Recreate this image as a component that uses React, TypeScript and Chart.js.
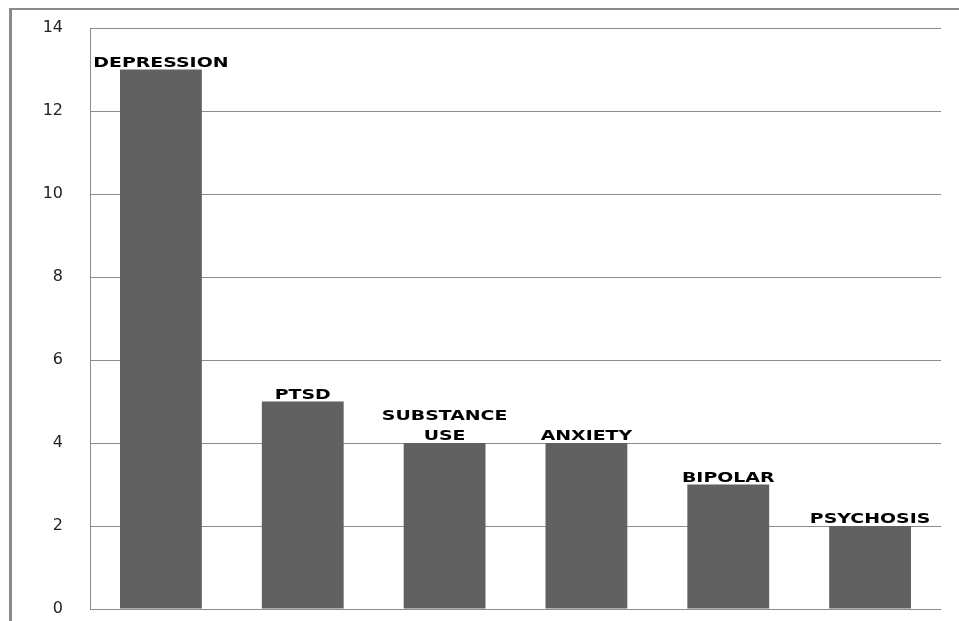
import React, { useEffect, useRef } from "react";
import { Chart, registerables } from "chart.js";

Chart.register(...registerables);

const categories: (string | string[])[] = [
  "DEPRESSION",
  "PTSD",
  ["SUBSTANCE", "USE"],
  "ANXIETY",
  "BIPOLAR",
  "PSYCHOSIS",
];
const counts = [13, 5, 4, 4, 3, 2];
const yMin = 0;
const yMax = 14;
const yStep = 2;

const barColor = "#616161";
const gridColor = "#8c8c8c";

const framePlugin = {
  id: "frame",
  beforeDraw(chart: any) {
    const ctx = chart.ctx;
    ctx.save();
    ctx.fillStyle = "#ffffff";
    ctx.fillRect(0, 0, chart.width, chart.height);
    ctx.strokeStyle = "#8a8a8a";
    ctx.lineWidth = 3;
    ctx.beginPath();
    ctx.moveTo(10.5, 8);
    ctx.lineTo(10.5, chart.height);
    ctx.stroke();
    ctx.lineWidth = 2;
    ctx.beginPath();
    ctx.moveTo(9, 9);
    ctx.lineTo(chart.width, 9);
    ctx.stroke();
    ctx.restore();
  },
};

const barLabelPlugin = {
  id: "barLabels",
  afterDatasetsDraw(chart: any) {
    const ctx = chart.ctx;
    const meta = chart.getDatasetMeta(0);
    const labels = chart.data.labels as (string | string[])[];
    ctx.save();
    ctx.fillStyle = "#000000";
    ctx.font = "bold 14px 'DejaVu Sans', sans-serif";
    ctx.textAlign = "center";
    ctx.textBaseline = "alphabetic";
    meta.data.forEach((bar: any, i: number) => {
      const raw = labels[i];
      const lines = Array.isArray(raw) ? raw : [raw];
      const lineH = 20;
      lines.forEach((line, j) => {
        const y = bar.y - 3 - (lines.length - 1 - j) * lineH;
        ctx.save();
        ctx.translate(bar.x, y);
        ctx.scale(1.35, 1);
        ctx.fillText(line, 0, 0);
        ctx.restore();
      });
    });
    ctx.restore();
  },
};

export default function App() {
  const canvasRef = useRef<HTMLCanvasElement | null>(null);

  useEffect(() => {
    const canvas = canvasRef.current;
    if (!canvas) return;
    const chart = new Chart(canvas, {
      type: "bar",
      data: {
        labels: categories,
        datasets: [
          {
            data: counts,
            backgroundColor: barColor,
            borderWidth: 0,
            barPercentage: 0.577,
            categoryPercentage: 1,
          },
        ],
      },
      options: {
        responsive: false,
        animation: false,
        devicePixelRatio: 1,
        layout: { padding: { left: 0, right: 18, top: 28, bottom: 12 } },
        plugins: {
          legend: { display: false },
          tooltip: { enabled: false },
          title: { display: false },
        },
        scales: {
          x: {
            display: false,
            afterFit(scale: any) {
              scale.height = 0;
              scale.paddingLeft = 0;
              scale.paddingRight = 0;
            },
          },
          y: {
            min: yMin,
            max: yMax,
            ticks: {
              stepSize: yStep,
              padding: 27,
              color: "#222222",
              font: { family: "'DejaVu Sans', sans-serif", size: 16 },
            },
            grid: {
              color: gridColor,
              lineWidth: 1,
              drawTicks: false,
            },
            border: { display: true, color: gridColor, width: 1 },
            afterFit(scale: any) {
              scale.width = 90;
              scale.paddingTop = 0;
              scale.paddingBottom = 0;
            },
          },
        },
      },
      plugins: [framePlugin, barLabelPlugin],
    });
    return () => chart.destroy();
  }, []);

  return (
    <div style={{ position: "fixed", left: 0, top: 0, width: 959, height: 621 }}>
      <canvas ref={canvasRef} width={959} height={621} style={{ display: "block" }} />
    </div>
  );
}
